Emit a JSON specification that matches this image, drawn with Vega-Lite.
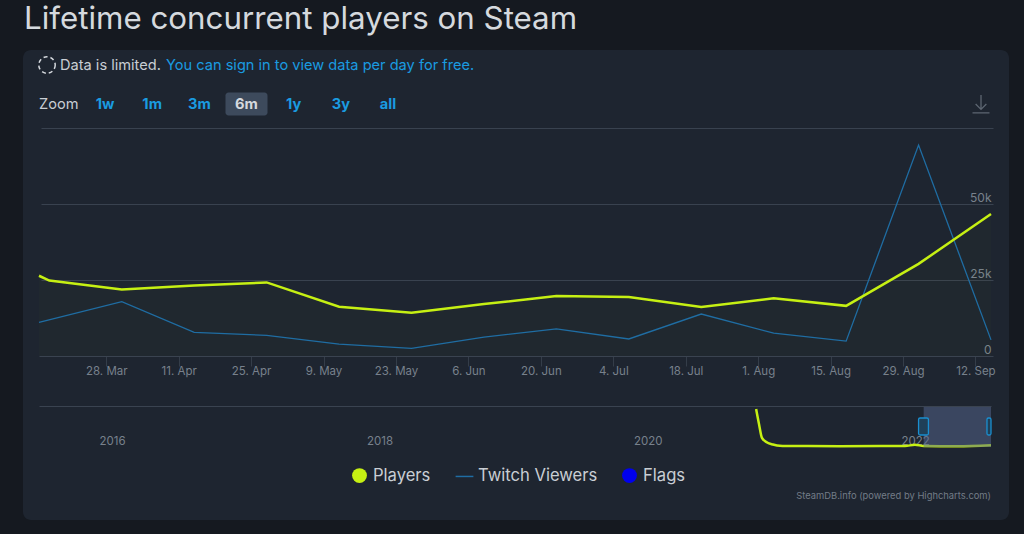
{
  "$schema": "https://vega.github.io/schema/vega-lite/v6.json",
  "autosize": "none",
  "width": 986,
  "height": 470,
  "padding": {"left": 23, "top": 50, "right": 15, "bottom": 14},
  "background": "#151920",
  "title": {
    "text": "Lifetime concurrent players on Steam",
    "anchor": "start",
    "frame": "group",
    "dx": 1,
    "offset": 15,
    "font": "Inter",
    "fontSize": 31.3,
    "fontWeight": 400,
    "color": "#d5d9de"
  },
  "view": {"fill": "#1e2530", "stroke": null, "cornerRadius": 8},
  "config": {
    "text": {"font": "Inter"},
    "axis": {"labelFont": "Inter", "labelColor": "#78818c", "title": null},
    "legend": {"labelFont": "Inter"}
  },
  "datasets": {
    "players": [
      {"date": "2022-03-15", "value": 26400},
      {"date": "2022-03-17", "value": 24800},
      {"date": "2022-03-31", "value": 21900},
      {"date": "2022-04-14", "value": 23200},
      {"date": "2022-04-28", "value": 24200},
      {"date": "2022-05-12", "value": 16200},
      {"date": "2022-05-26", "value": 14200},
      {"date": "2022-06-09", "value": 17100},
      {"date": "2022-06-23", "value": 19700},
      {"date": "2022-07-07", "value": 19400},
      {"date": "2022-07-21", "value": 16100},
      {"date": "2022-08-04", "value": 19000},
      {"date": "2022-08-18", "value": 16500},
      {"date": "2022-09-01", "value": 30300},
      {"date": "2022-09-15", "value": 46700}
    ],
    "twitch": [
      {"date": "2022-03-15", "value": 11100},
      {"date": "2022-03-31", "value": 17900},
      {"date": "2022-04-14", "value": 7800},
      {"date": "2022-04-28", "value": 6800},
      {"date": "2022-05-12", "value": 3900},
      {"date": "2022-05-26", "value": 2500},
      {"date": "2022-06-09", "value": 6200},
      {"date": "2022-06-23", "value": 8900},
      {"date": "2022-07-07", "value": 5600},
      {"date": "2022-07-21", "value": 13800},
      {"date": "2022-08-04", "value": 7500},
      {"date": "2022-08-18", "value": 4900},
      {"date": "2022-09-01", "value": 69400},
      {"date": "2022-09-15", "value": 5300}
    ],
    "navigator": [
      {"date": "2020-12-12", "value": 1000000},
      {"date": "2020-12-20", "value": 600000},
      {"date": "2020-12-28", "value": 240000},
      {"date": "2021-01-11", "value": 120000},
      {"date": "2021-01-27", "value": 65000},
      {"date": "2021-02-15", "value": 30000},
      {"date": "2021-04-10", "value": 26000},
      {"date": "2021-07-28", "value": 22000},
      {"date": "2021-11-15", "value": 24000},
      {"date": "2022-01-23", "value": 25000},
      {"date": "2022-02-19", "value": 60000},
      {"date": "2022-03-15", "value": 26000},
      {"date": "2022-06-15", "value": 17000},
      {"date": "2022-09-15", "value": 46000}
    ],
    "selection": [
      {"start": "2022-03-15", "end": "2022-09-15", "low": 0, "high": 1052000}
    ],
    "handles": [
      {"start": "2022-03-01", "end": "2022-03-28", "low": 316000, "high": 763000},
      {"start": "2022-09-04", "end": "2022-09-15", "low": 316000, "high": 763000}
    ],
    "series": [
      {"series": "Players"},
      {"series": "Twitch Viewers"},
      {"series": "Flags"}
    ]
  },
  "layer": [
    {
      "data": {"values": [{"row": "notice", "icon": "limited"}]},
      "mark": {"type": "point", "filled": false, "opacity": 1, "size": 270, "stroke": "#d5d9de", "strokeWidth": 1.5, "strokeDash": [4, 3]},
      "encoding": {
        "x": {"field": "icon", "type": "nominal", "axis": null, "scale": {"type": "point", "padding": 0, "range": [24, 24]}},
        "y": {"field": "row", "type": "nominal", "axis": null, "scale": {"type": "point", "padding": 0, "range": [15, 15]}}
      }
    },
    {
      "data": {"values": [{"row": "notice", "label": "Data is limited."}]},
      "mark": {"type": "text", "align": "left", "fontSize": 14.6, "color": "#c9ced4"},
      "encoding": {
        "x": {"field": "label", "type": "nominal", "axis": null, "scale": {"type": "point", "padding": 0, "range": [37, 37]}},
        "y": {"field": "row", "type": "nominal", "axis": null, "scale": {"type": "point", "padding": 0, "range": [16, 16]}},
        "text": {"field": "label"}
      }
    },
    {
      "data": {"values": [{"row": "notice", "label": "You can sign in to view data per day for free."}]},
      "mark": {"type": "text", "align": "left", "fontSize": 14.6, "color": "#1a9be0"},
      "encoding": {
        "x": {"field": "label", "type": "nominal", "axis": null, "scale": {"type": "point", "padding": 0, "range": [143, 143]}},
        "y": {"field": "row", "type": "nominal", "axis": null, "scale": {"type": "point", "padding": 0, "range": [16, 16]}},
        "text": {"field": "label"}
      }
    },
    {
      "data": {"values": [{"row": "zoom", "label": "Zoom"}]},
      "mark": {"type": "text", "align": "left", "fontSize": 14.6, "color": "#c9ced4"},
      "encoding": {
        "x": {"field": "label", "type": "nominal", "axis": null, "scale": {"type": "point", "padding": 0, "range": [16, 16]}},
        "y": {"field": "row", "type": "nominal", "axis": null, "scale": {"type": "point", "padding": 0, "range": [55, 55]}},
        "text": {"field": "label"}
      }
    },
    {
      "data": {
        "values": [
          {"row": "zoom", "label": "1w"},
          {"row": "zoom", "label": "1m"},
          {"row": "zoom", "label": "3m"},
          {"row": "zoom", "label": "6m"},
          {"row": "zoom", "label": "1y"},
          {"row": "zoom", "label": "3y"},
          {"row": "zoom", "label": "all"}
        ]
      },
      "encoding": {
        "x": {
          "field": "label",
          "type": "nominal",
          "sort": null,
          "axis": null,
          "scale": {"type": "point", "padding": 0, "domain": ["1w", "1m", "3m", "6m", "1y", "3y", "all"], "range": [82, 365]}
        },
        "y": {"field": "row", "type": "nominal", "axis": null, "scale": {"type": "point", "padding": 0, "range": [54, 54]}}
      },
      "layer": [
        {
          "transform": [{"filter": "datum.label == '6m'"}],
          "mark": {"type": "rect", "width": 42, "height": 23, "cornerRadius": 3, "fill": "#3d4a5c"}
        },
        {
          "mark": {"type": "text", "fontSize": 14.6, "fontWeight": 700, "dy": 1},
          "encoding": {
            "text": {"field": "label"},
            "color": {"condition": {"test": "datum.label == '6m'", "value": "#d5d9de"}, "value": "#1a9be0"}
          }
        }
      ]
    },
    {
      "data": {"values": [{"row": "zoom", "icon": "download"}]},
      "mark": {"type": "point", "filled": false, "opacity": 1, "size": 320, "stroke": "#5d6671", "strokeWidth": 1.3, "shape": "M0,-1V0.55M-0.6,0L0,0.6L0.6,0M-0.95,1H0.95"},
      "encoding": {
        "x": {"field": "icon", "type": "nominal", "axis": null, "scale": {"type": "point", "padding": 0, "range": [958, 958]}},
        "y": {"field": "row", "type": "nominal", "axis": null, "scale": {"type": "point", "padding": 0, "range": [54, 54]}}
      }
    },
    {
      "encoding": {
        "x": {
          "field": "date",
          "type": "temporal",
          "scale": {
            "domain": [{"year": 2022, "month": "mar", "date": 15}, {"year": 2022, "month": "sep", "date": 15}],
            "range": [16, 968]
          },
          "axis": {
            "orient": "bottom",
            "offset": -164,
            "grid": false,
            "format": "%-d. %b",
            "labelFontSize": 11.5,
            "labelPadding": -1,
            "labelOverlap": false,
            "labelFlush": false,
            "tickSize": 10,
            "tickColor": "#343d49",
            "domainColor": "#3a4350",
            "values": [
              {"year": 2022, "month": "mar", "date": 28},
              {"year": 2022, "month": "apr", "date": 11},
              {"year": 2022, "month": "apr", "date": 25},
              {"year": 2022, "month": "may", "date": 9},
              {"year": 2022, "month": "may", "date": 23},
              {"year": 2022, "month": "jun", "date": 6},
              {"year": 2022, "month": "jun", "date": 20},
              {"year": 2022, "month": "jul", "date": 4},
              {"year": 2022, "month": "jul", "date": 18},
              {"year": 2022, "month": "aug", "date": 1},
              {"year": 2022, "month": "aug", "date": 15},
              {"year": 2022, "month": "aug", "date": 29},
              {"year": 2022, "month": "sep", "date": 12}
            ]
          }
        },
        "y": {
          "field": "value",
          "type": "quantitative",
          "scale": {"domain": [0, 75000], "range": [306, 78], "nice": false},
          "axis": {
            "orient": "right",
            "offset": -18,
            "values": [0, 25000, 50000, 75000],
            "labelExpr": "datum.value == 75000 ? '' : datum.value == 0 ? '0' : datum.value / 1000 + 'k'",
            "labelAlign": "right",
            "labelPadding": 0,
            "labelOffset": -7,
            "labelFontSize": 12,
            "ticks": false,
            "domain": false,
            "grid": true,
            "gridColor": "#39424f",
            "gridWidth": 1
          }
        }
      },
      "layer": [
        {
          "data": {"name": "players"},
          "mark": {"type": "area", "fill": "#c6f000", "fillOpacity": 0.015}
        },
        {
          "data": {"name": "twitch"},
          "mark": {"type": "line", "stroke": "#1f6da3", "strokeWidth": 1.3}
        },
        {
          "data": {"name": "players"},
          "mark": {"type": "line", "stroke": "#c6f013", "strokeWidth": 2.5}
        }
      ]
    },
    {
      "layer": [
        {
          "data": {"name": "navigator"},
          "mark": {"type": "line", "stroke": "#c6f013", "strokeWidth": 2.5, "interpolate": "monotone"},
          "encoding": {
            "x": {
              "field": "date",
              "type": "temporal",
              "scale": {
                "domain": [{"year": 2015, "month": "aug", "date": 1}, {"year": 2022, "month": "sep", "date": 15}],
                "range": [16, 968]
              },
              "axis": {
                "orient": "top",
                "offset": -356,
                "grid": false,
                "format": "%Y",
                "values": [
                  {"year": 2016, "month": "jan", "date": 1},
                  {"year": 2018, "month": "jan", "date": 1},
                  {"year": 2020, "month": "jan", "date": 1},
                  {"year": 2022, "month": "jan", "date": 1}
                ],
                "labelAlign": "left",
                "labelOffset": 4,
                "labelPadding": -40,
                "labelFontSize": 11.5,
                "ticks": false,
                "domainColor": "#3a4350"
              }
            },
            "y": {
              "field": "value",
              "type": "quantitative",
              "axis": null,
              "scale": {"domain": [0, 1000000], "range": [397, 359], "nice": false, "clamp": false}
            }
          }
        },
        {
          "data": {"name": "selection"},
          "mark": {"type": "rect", "fill": "#55678f", "fillOpacity": 0.5},
          "encoding": {
            "x": {"field": "start", "type": "temporal"},
            "x2": {"field": "end"},
            "y": {"field": "low", "type": "quantitative"},
            "y2": {"field": "high"}
          }
        },
        {
          "data": {"name": "handles"},
          "mark": {"type": "rect", "fill": "#1f4058", "stroke": "#1a8fd0", "strokeWidth": 1.3, "cornerRadius": 1.5},
          "encoding": {
            "x": {"field": "start", "type": "temporal"},
            "x2": {"field": "end"},
            "y": {"field": "low", "type": "quantitative"},
            "y2": {"field": "high"}
          }
        }
      ]
    },
    {
      "data": {"name": "series"},
      "mark": {"type": "point", "filled": true, "opacity": 1, "size": 0},
      "encoding": {
        "color": {
          "field": "series",
          "type": "nominal",
          "sort": null,
          "scale": {"domain": ["Players", "Twitch Viewers", "Flags"], "range": ["#c6f013", "#1f6da3", "#0000ee"]},
          "legend": {
            "title": null,
            "orient": "none",
            "legendX": 328,
            "legendY": 417,
            "direction": "horizontal",
            "columns": 3,
            "gridAlign": "each",
            "columnPadding": 21,
            "symbolSize": 220,
            "symbolOpacity": 1,
            "labelFontSize": 16.6,
            "labelColor": "#c9ced4",
            "labelOffset": 5
          }
        },
        "shape": {
          "field": "series",
          "type": "nominal",
          "sort": null,
          "scale": {"domain": ["Players", "Twitch Viewers", "Flags"], "range": ["circle", "M-1.2,-0.1H1.2V0.1H-1.2Z", "circle"]}
        }
      }
    },
    {
      "data": {"values": [{"row": "credit", "label": "SteamDB.info (powered by Highcharts.com)"}]},
      "mark": {"type": "text", "align": "right", "fontSize": 9.4, "color": "#737c87"},
      "encoding": {
        "x": {"field": "label", "type": "nominal", "axis": null, "scale": {"type": "point", "padding": 0, "range": [968, 968]}},
        "y": {"field": "row", "type": "nominal", "axis": null, "scale": {"type": "point", "padding": 0, "range": [446, 446]}},
        "text": {"field": "label"}
      }
    }
  ],
  "resolve": {
    "scale": {"x": "independent", "y": "independent"}
  }
}
